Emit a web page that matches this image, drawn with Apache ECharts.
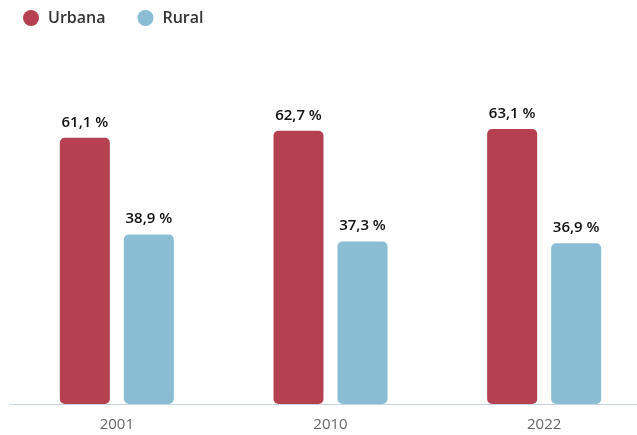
<!DOCTYPE html>
<html>
<head>
<meta charset="utf-8">
<script src="https://cdn.jsdelivr.net/npm/echarts@6/dist/echarts.min.js"></script>
<style>
  html, body { margin: 0; padding: 0; background: #fff; }
  #chart { width: 637px; height: 435px; }
</style>
</head>
<body>
<div id="chart"></div>
<script>
const years = ["2001", "2010", "2022"];
const urbana = [61.1, 62.7, 63.1];
const rural = [38.9, 37.3, 36.9];

const chart = echarts.init(document.getElementById("chart"));

const label = {
  show: true,
  position: "top",
  distance: 8,
  color: "#111",
  fontSize: 15,
  fontWeight: 600,
  fontFamily: "Open Sans",
  formatter: p => p.value.toFixed(1).replace(".", ",") + " %"
};

chart.setOption({
  animation: false,
  legend: {
    left: 18,
    top: 5,
    icon: "circle",
    itemWidth: 16,
    itemHeight: 16,
    itemGap: 32,
    textStyle: { color: "#333", fontSize: 16, fontWeight: 600, fontFamily: "Open Sans", padding: [0, 0, 0, 4] },
    data: ["Urbana", "Rural"]
  },
  grid: { left: 10, top: 99, right: -14, bottom: 31, containLabel: false, outerBoundsMode: "none" },
  xAxis: {
    type: "category",
    data: years,
    axisLine: { lineStyle: { color: "#c6d4ec" } },
    axisTick: { show: false },
    axisLabel: { color: "#666", fontSize: 15, margin: 13, fontFamily: "Open Sans" }
  },
  yAxis: {
    type: "value",
    min: 0,
    max: 70,
    show: false,
    splitLine: { show: false }
  },
  series: [
    {
      name: "Urbana",
      type: "bar",
      data: urbana,
      barWidth: 50,
      barGap: "28%",
      itemStyle: { color: "#b54050", borderRadius: 5 },
      label: label
    },
    {
      name: "Rural",
      type: "bar",
      data: rural,
      barWidth: 50,
      itemStyle: { color: "#8abdd3", borderRadius: 5 },
      label: label
    }
  ]
});
</script>
</body>
</html>
